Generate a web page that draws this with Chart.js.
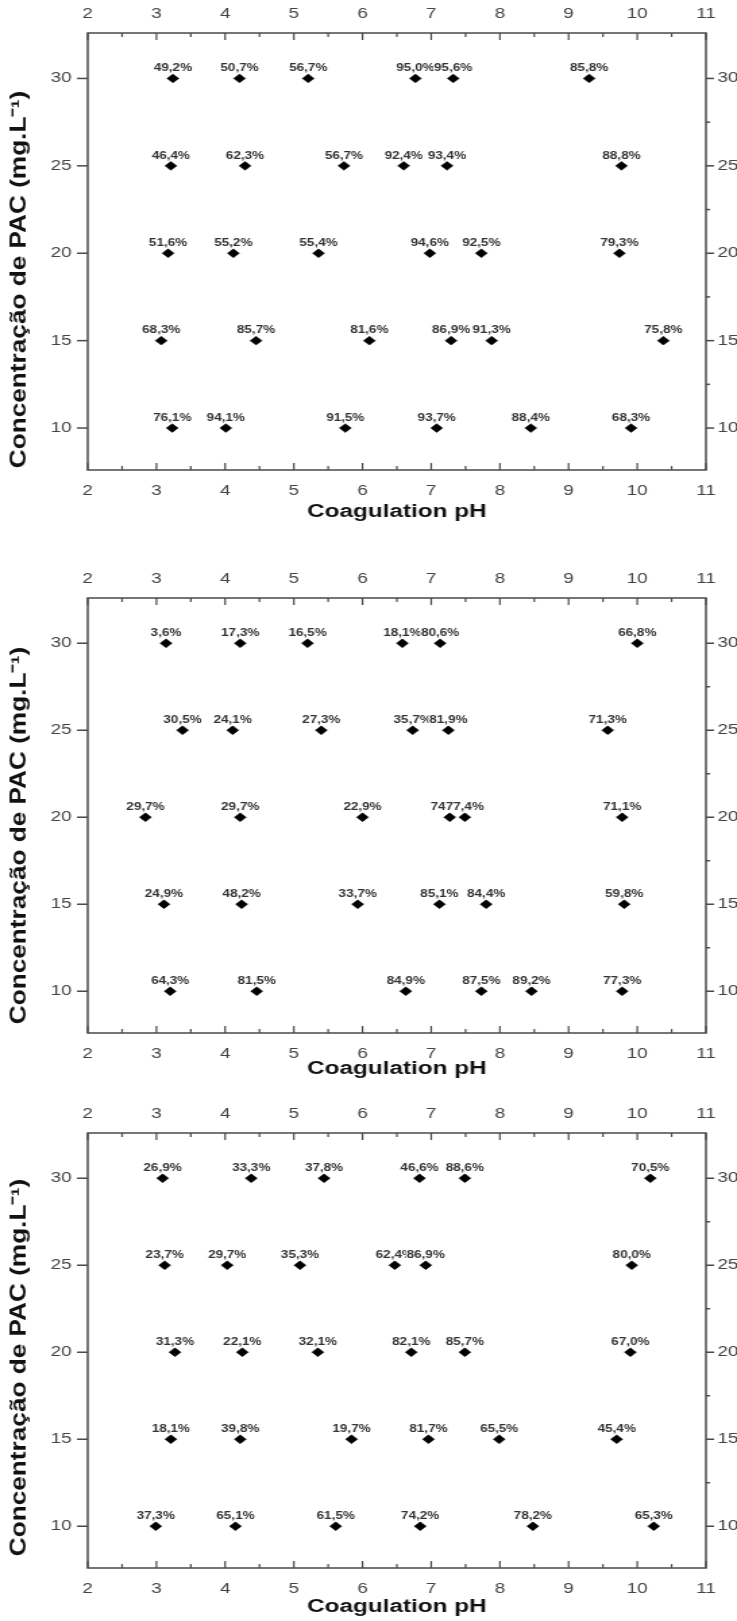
<!DOCTYPE html>
<html>
<head>
<meta charset="utf-8">
<script src="https://cdn.jsdelivr.net/npm/chart.js@4.4.1/dist/chart.umd.min.js"></script>
<style>
  body { margin: 0; background: #fff; width: 737px; height: 1621px; position: relative; overflow: hidden; }
  canvas { position: absolute; left: 0; }
</style>
</head>
<body>
<canvas id="c1"></canvas>
<canvas id="c2"></canvas>
<canvas id="c3"></canvas>
<script>
// PAC dose levels (rows, top to bottom) and axis ticks
const concLevels = [30, 25, 20, 15, 10];
const xTicks = [2, 3, 4, 5, 6, 7, 8, 9, 10, 11];
const yTicks = [10, 15, 20, 25, 30];

// Panel 1 - coagulation pH of each run and removal (%)
const ph1 = [
  [3.24, 4.21, 5.21, 6.77, 7.32, 9.30],
  [3.21, 4.29, 5.73, 6.60, 7.23, 9.77],
  [3.17, 4.12, 5.36, 6.98, 7.73, 9.74],
  [3.07, 4.45, 6.10, 7.29, 7.88, 10.38],
  [3.23, 4.01, 5.75, 7.08, 8.45, 9.91]
];
const rem1 = [
  [49.2, 50.7, 56.7, 95.0, 95.6, 85.8],
  [46.4, 62.3, 56.7, 92.4, 93.4, 88.8],
  [51.6, 55.2, 55.4, 94.6, 92.5, 79.3],
  [68.3, 85.7, 81.6, 86.9, 91.3, 75.8],
  [76.1, 94.1, 91.5, 93.7, 88.4, 68.3]
];

// Panel 2
const ph2 = [
  [3.14, 4.22, 5.20, 6.58, 7.13, 10.00],
  [3.38, 4.11, 5.40, 6.73, 7.25, 9.57],
  [2.84, 4.22, 6.00, 7.27, 7.49, 9.78],
  [3.11, 4.24, 5.93, 7.12, 7.80, 9.81],
  [3.20, 4.46, 6.63, 7.73, 8.46, 9.78]
];
const rem2 = [
  [3.6, 17.3, 16.5, 18.1, 80.6, 66.8],
  [30.5, 24.1, 27.3, 35.7, 81.9, 71.3],
  [29.7, 29.7, 22.9, 74.0, 77.4, 71.1], // only "74" is legible for the 4th one
  [24.9, 48.2, 33.7, 85.1, 84.4, 59.8],
  [64.3, 81.5, 84.9, 87.5, 89.2, 77.3]
];

// Panel 3
const ph3 = [
  [3.09, 4.38, 5.44, 6.83, 7.49, 10.19],
  [3.12, 4.03, 5.09, 6.47, 6.92, 9.92],
  [3.27, 4.25, 5.35, 6.71, 7.49, 9.90],
  [3.21, 4.22, 5.84, 6.96, 7.99, 9.70],
  [2.99, 4.15, 5.61, 6.84, 8.48, 10.24]
];
const rem3 = [
  [26.9, 33.3, 37.8, 46.6, 88.6, 70.5],
  [23.7, 29.7, 35.3, 62.4, 86.9, 80.0],
  [31.3, 22.1, 32.1, 82.1, 85.7, 67.0],
  [18.1, 39.8, 19.7, 81.7, 65.5, 45.4],
  [37.3, 65.1, 61.5, 74.2, 78.2, 65.3]
];

const FONT = '"Liberation Sans", Arial, sans-serif';
const AXIS_COLOR = '#4a4a4a';
// the original figure is stretched sideways, so the canvas is drawn narrow and widened by CSS
const PAGE_W = 737;
const CANVAS_W = 546;
const STRETCH = PAGE_W / CANVAS_W;
const fmt = v => v.toFixed(1).replace('.', ',') + '%';

// Points with their removal value attached for the labels
function buildPoints(ph, rem) {
  const pts = [];
  concLevels.forEach((c, i) => {
    ph[i].forEach((x, j) => pts.push({ x: x, y: c, v: rem[i][j] }));
  });
  return pts;
}

// Box, Origin-style ticks and the rotated y title
const framePlugin = {
  id: 'frame',
  beforeDatasetsDraw(chart, args, opts) {
    const { ctx, chartArea: a, scales: { x, y } } = chart;
    const line = (x1, y1, x2, y2) => { ctx.beginPath(); ctx.moveTo(x1, y1); ctx.lineTo(x2, y2); ctx.stroke(); };
    ctx.save();
    ctx.strokeStyle = AXIS_COLOR;
    ctx.lineWidth = 1.5;
    ctx.strokeRect(a.left, a.top, a.right - a.left, a.bottom - a.top);
    ctx.lineWidth = 1.2;
    for (let v = xTicks[0]; v <= xTicks[xTicks.length - 1]; v += 0.5) {
      const px = x.getPixelForValue(v);
      const len = v % 1 ? 4 : 7;
      line(px, a.top, px, a.top + len);
      line(px, a.bottom, px, a.bottom - len);
    }
    ctx.lineWidth = 1.5;
    yTicks.forEach(v => {
      const py = y.getPixelForValue(v);
      line(a.left - 8, py, a.left, py);
      line(a.right, py, a.right + 6, py);
    });
    for (let v = 12.5; v < 30; v += 5) {
      const py = y.getPixelForValue(v);
      line(a.right, py, a.right + 3, py);
    }
    // y axis title
    ctx.translate(15, (a.top + a.bottom) / 2 + opts.titleShift);
    ctx.rotate(-Math.PI / 2);
    ctx.scale(1.19, 1 / STRETCH);
    ctx.fillStyle = '#111';
    ctx.font = 'bold 22px ' + FONT;
    ctx.textAlign = 'center';
    ctx.textBaseline = 'middle';
    ctx.fillText('Concentração de PAC (mg.L⁻¹)', 0, 0);
    ctx.restore();
  }
};

// Value labels above each marker, later ones drawn over earlier ones
const pointLabels = {
  id: 'pointLabels',
  afterDatasetsDraw(chart) {
    const ctx = chart.ctx;
    const meta = chart.getDatasetMeta(0);
    const data = chart.data.datasets[0].data;
    ctx.save();
    ctx.font = 'bold 10px ' + FONT;
    ctx.textAlign = 'center';
    ctx.textBaseline = 'middle';
    meta.data.forEach((pt, i) => {
      const txt = fmt(data[i].v);
      const w = ctx.measureText(txt).width;
      const ly = pt.y - 10;
      ctx.fillStyle = '#fff';
      ctx.fillRect(pt.x - w / 2 - 0.5, ly - 5.5, w + 1, 10.5);
      ctx.fillStyle = '#333';
      ctx.fillText(txt, pt.x, ly);
    });
    ctx.restore();
  }
};

const tickFont = { family: FONT, size: 14 };
const setTicks = vals => scale => { scale.ticks = vals.map(v => ({ value: v })); };

function makeChart(id, cfg, ph, rem) {
  const canvas = document.getElementById(id);
  canvas.width = CANVAS_W;
  canvas.height = cfg.height;
  canvas.style.width = PAGE_W + 'px';
  canvas.style.height = cfg.height + 'px';
  canvas.style.top = cfg.top + 'px';
  const plotLeft = 65, plotRight = 523;

  const xBase = {
    type: 'linear', min: 2, max: 11,
    afterBuildTicks: setTicks(xTicks),
    grid: { display: false, drawTicks: false },
    border: { display: false },
    ticks: { font: tickFont, color: '#444', autoSkip: false, maxRotation: 0 }
  };
  const yBase = {
    type: 'linear', min: 7.6, max: 32.6,
    afterBuildTicks: setTicks(yTicks),
    grid: { display: false, drawTicks: false },
    border: { display: false },
    ticks: { font: tickFont, color: '#444', autoSkip: false }
  };

  return new Chart(canvas, {
    type: 'scatter',
    data: {
      datasets: [{
        data: buildPoints(ph, rem),
        pointStyle: 'rectRot',
        pointRadius: 4.4,
        pointBackgroundColor: '#000',
        pointBorderColor: '#000',
        pointBorderWidth: 0.5
      }]
    },
    options: {
      responsive: false,
      animation: false,
      layout: { padding: 0 },
      plugins: {
        legend: { display: false },
        tooltip: { enabled: false },
        frame: { titleShift: cfg.titleShift }
      },
      scales: {
        x: {
          ...xBase, position: 'bottom',
          ticks: { ...xBase.ticks, padding: 13 },
          title: {
            display: true, text: 'Coagulation pH', color: '#111',
            font: { family: FONT, size: 18, weight: 'bold' },
            padding: { top: 0, bottom: 3 }
          },
          afterFit: s => { s.height = cfg.height - cfg.plotBottom; }
        },
        x2: {
          ...xBase, position: 'top',
          ticks: { ...xBase.ticks, padding: 10 },
          afterFit: s => { s.height = cfg.plotTop; }
        },
        y: {
          ...yBase, position: 'left',
          ticks: { ...yBase.ticks, padding: 12 },
          afterFit: s => { s.width = plotLeft; }
        },
        y2: {
          ...yBase, position: 'right',
          ticks: { ...yBase.ticks, padding: 8.5 },
          afterFit: s => { s.width = CANVAS_W - plotRight; }
        }
      }
    },
    plugins: [framePlugin, pointLabels]
  });
}

makeChart('c1', { top: 0, height: 526, plotTop: 33, plotBottom: 470, titleShift: 28 }, ph1, rem1);
makeChart('c2', { top: 562, height: 521, plotTop: 36, plotBottom: 471, titleShift: 20 }, ph2, rem2);
makeChart('c3', { top: 1097, height: 524, plotTop: 36, plotBottom: 471, titleShift: 17 }, ph3, rem3);
</script>
</body>
</html>
